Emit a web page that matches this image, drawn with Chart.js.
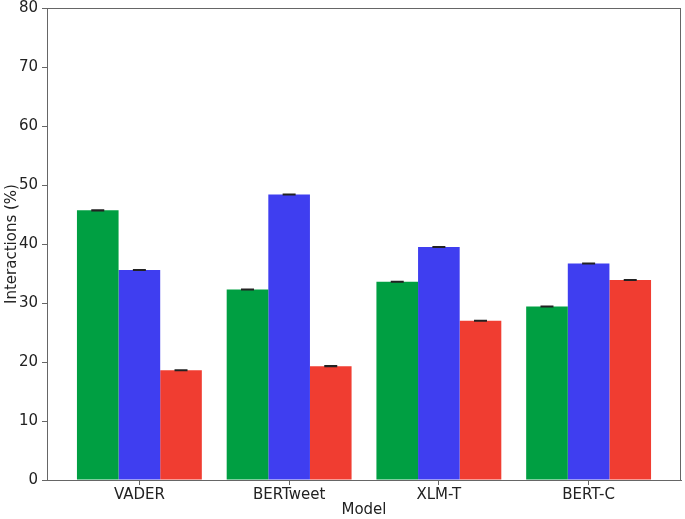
<!DOCTYPE html>
<html>
<head>
<meta charset="utf-8">
<script src="https://cdn.jsdelivr.net/npm/chart.js@4"></script>
<style>
  html, body { margin: 0; padding: 0; background: #fff; }
  #wrap { width: 685px; height: 519px; }
</style>
</head>
<body>
<div id="wrap"><canvas id="myChart"></canvas></div>
<script>
var models = ["VADER", "BERTweet", "XLM-T", "BERT-C"];
var greenVals = [45.7, 32.3, 33.6, 29.4];
var blueVals = [35.6, 48.4, 39.5, 36.7];
var redVals = [18.6, 19.3, 27.0, 33.9];
var errVals = [0.05, 0.05, 0.05, 0.05];
var yTicks = [0, 10, 20, 30, 40, 50, 60, 70, 80];

var fontFam = "'DejaVu Sans', sans-serif";

function toPoints(vals) {
    return vals.map(function (v, i) { return { x: i, y: v }; });
}

// small black caps on top of each bar
var errorBars = {
    id: "errorBars",
    afterDatasetsDraw: function (chart) {
        var ctx = chart.ctx;
        var yScale = chart.scales.y;
        ctx.save();
        ctx.strokeStyle = "#222";
        ctx.lineWidth = 1.5;
        chart.data.datasets.forEach(function (ds, di) {
            var meta = chart.getDatasetMeta(di);
            meta.data.forEach(function (bar, i) {
                var v = ds.data[i].y;
                var e = errVals[i];
                var top = yScale.getPixelForValue(v + e);
                var bot = yScale.getPixelForValue(v - e);
                ctx.beginPath();
                ctx.moveTo(bar.x, top);
                ctx.lineTo(bar.x, bot);
                ctx.moveTo(bar.x - 6.5, top);
                ctx.lineTo(bar.x + 6.5, top);
                ctx.moveTo(bar.x - 6.5, bot);
                ctx.lineTo(bar.x + 6.5, bot);
                ctx.stroke();
            });
        });
        ctx.restore();
    }
};

// box round the plot area
var frame = {
    id: "frame",
    afterDraw: function (chart) {
        var a = chart.chartArea;
        var ctx = chart.ctx;
        ctx.save();
        ctx.strokeStyle = "#666";
        ctx.lineWidth = 1;
        ctx.strokeRect(a.left + 0.5, a.top + 0.5, a.right - a.left - 1, a.bottom - a.top);
        ctx.restore();
    }
};

var ctx = document.getElementById("myChart").getContext("2d");
var mixedChart = new Chart(ctx, {
    type: "bar",
    data: {
        datasets: [
            { label: "green", data: toPoints(greenVals), backgroundColor: "#009f42" },
            { label: "blue", data: toPoints(blueVals), backgroundColor: "#3f3ef0" },
            { label: "red", data: toPoints(redVals), backgroundColor: "#f03d31" }
        ]
    },
    options: {
        responsive: true,
        maintainAspectRatio: false,
        animation: false,
        layout: { padding: { top: 0, right: 4, left: 0, bottom: 0 } },
        categoryPercentage: 0.834,
        barPercentage: 1.0,
        plugins: {
            legend: { display: false },
            tooltip: { enabled: false }
        },
        scales: {
            x: {
                type: "linear",
                min: -0.617,
                max: 3.617,
                offset: false,
                afterBuildTicks: function (scale) {
                    scale.ticks = models.map(function (m, i) { return { value: i }; });
                },
                afterFit: function (scale) { scale.height = 39; },
                ticks: {
                    callback: function (v) { return models[v]; },
                    color: "#222",
                    font: { family: fontFam, size: 15 },
                    padding: 1,
                    maxRotation: 0,
                    autoSkip: false
                },
                grid: { offset: false, drawOnChartArea: false, drawTicks: true, tickLength: 5, color: "#666" },
                border: { display: true, color: "#666", width: 1 },
                title: {
                    display: true,
                    text: "Model",
                    color: "#222",
                    font: { family: fontFam, size: 15 },
                    padding: { top: 1, bottom: 0 }
                }
            },
            y: {
                min: 0,
                max: 80,
                afterBuildTicks: function (scale) {
                    scale.ticks = yTicks.map(function (v) { return { value: v }; });
                },
                afterFit: function (scale) {
                    scale.width = 47;
                    scale.paddingTop = 8;
                    scale.paddingBottom = 0;
                },
                ticks: {
                    color: "#222",
                    font: { family: fontFam, size: 15 },
                    padding: 4
                },
                grid: { drawOnChartArea: false, drawTicks: true, tickLength: 5, color: "#666" },
                border: { display: true, color: "#666", width: 1 },
                title: {
                    display: true,
                    text: "Interactions (%)",
                    color: "#222",
                    font: { family: fontFam, size: 15 },
                    padding: { top: 3, bottom: 0 }
                }
            }
        }
    },
    plugins: [errorBars, frame]
});
</script>
</body>
</html>
